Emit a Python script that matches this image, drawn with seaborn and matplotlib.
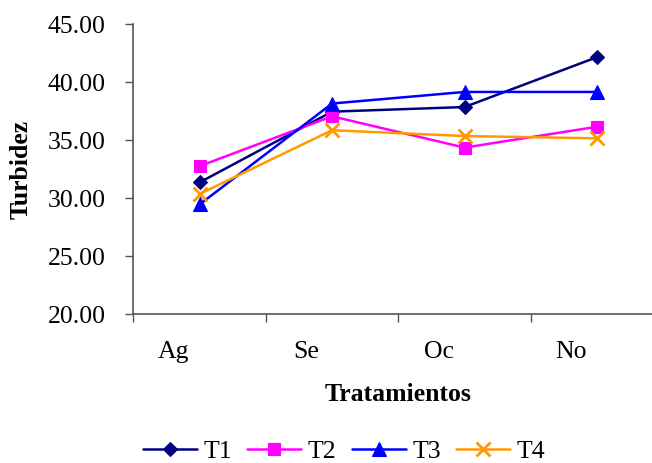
import numpy as np
import pandas as pd
import seaborn as sns
import matplotlib
matplotlib.use("Agg")
import matplotlib.pyplot as plt
from matplotlib.transforms import ScaledTranslation
from matplotlib.ticker import FixedLocator, FormatStrFormatter

months = ["Ag", "Se", "Oc", "No"]
series_names = ["T1", "T2", "T3", "T4"]
t1 = [31.3, 37.4, 37.8, 42.1]
t2 = [32.7, 37.0, 34.3, 36.1]
t3 = [29.4, 38.1, 39.1, 39.1]
t4 = [30.3, 35.8, 35.3, 35.1]
y_ticks = [20, 25, 30, 35, 40, 45]

colors = {"T1": "#000080", "T2": "#FF00FF", "T3": "#0000FF", "T4": "#FF9900"}
markers = {"T1": "D", "T2": "s", "T3": "^", "T4": "x"}
msizes = {"T1": 7.5, "T2": 9.0, "T3": 10.0, "T4": 10.0}

rows = []
for name, vals in zip(series_names, [t1, t2, t3, t4]):
    for m, v in zip(months, vals):
        rows.append({"Mes": m, "Turbidez": v, "Tratamiento": name})
df = pd.DataFrame(rows)

sns.set_theme(style="white")
plt.rcParams["font.family"] = ["Liberation Serif", "DejaVu Serif"]
plt.rcParams["text.color"] = "black"
plt.rcParams["axes.labelcolor"] = "black"
plt.rcParams["xtick.color"] = "black"
plt.rcParams["ytick.color"] = "black"
FS = 18.5

fig = plt.figure(figsize=(6.52, 4.64), dpi=100)
W, H = 652, 464
left, right, top, bottom = 133.3, 663.3, 24.5, 314.5
ax = fig.add_axes([left / W, 1 - bottom / H, (right - left) / W, (bottom - top) / H])

sns.lineplot(data=df, x="Mes", y="Turbidez", hue="Tratamiento", hue_order=series_names,
             palette=colors, sort=False, linewidth=1.8, ax=ax, legend=False)

handles = []
for line, name in zip(ax.lines, series_names):
    line.set_marker(markers[name])
    line.set_markersize(msizes[name])
    line.set_markeredgecolor(colors[name])
    line.set_markerfacecolor(colors[name])
    line.set_markeredgewidth(2.0 if name == "T4" else 0.8)
    line.set_color(colors[name])
    line.set_linewidth(1.8)
    handles.append(line)

ax.set_xlim(-0.5, 3.5)
ax.set_ylim(20, 45)
ax.yaxis.set_major_locator(FixedLocator(y_ticks))
ax.yaxis.set_major_formatter(FormatStrFormatter("%.2f"))

# category boundaries as major ticks, labels on minor ticks
ax.xaxis.set_major_locator(FixedLocator([-0.5, 0.5, 1.5, 2.5]))
ax.xaxis.set_minor_locator(FixedLocator([0, 1, 2, 3]))
ax.set_xticklabels([], minor=False)
ax.set_xticks([0, 1, 2, 3], labels=months, minor=True)
ax.tick_params(axis="x", which="major", direction="out", length=6, width=1, color="#555555", bottom=True)
ax.tick_params(axis="x", which="minor", length=0, pad=19, labelsize=FS, labelcolor="black")
ax.tick_params(axis="y", which="major", direction="out", length=6, width=1, color="#555555",
               left=True, pad=14, labelsize=FS, labelcolor="black")
off = ScaledTranslation(-0.26, 0, fig.dpi_scale_trans)
for lab in ax.xaxis.get_minorticklabels():
    lab.set_transform(lab.get_transform() + off)

for s in ["top", "right"]:
    ax.spines[s].set_visible(False)
for s in ["left", "bottom"]:
    ax.spines[s].set_color("#555555")
    ax.spines[s].set_linewidth(1.2)
ax.grid(False)
ax.set_facecolor("white")

ax.set_xlabel("Tratamientos", fontsize=FS, fontweight="bold", color="black")
ax.set_ylabel("Turbidez", fontsize=FS, fontweight="bold", color="black")
ax.xaxis.set_label_coords(0.5, -0.235)
ax.yaxis.set_label_coords(-0.19, 0.5)

leg = fig.legend(handles, series_names, loc="center", bbox_to_anchor=(344 / W, 1 - 452 / H),
                 ncol=4, frameon=False, fontsize=FS, handlelength=2.1, handletextpad=0.25,
                 columnspacing=0.6, borderaxespad=0, borderpad=0)
for t in leg.get_texts():
    t.set_color("black")

fig.savefig("out.png", dpi=100, facecolor="white")
